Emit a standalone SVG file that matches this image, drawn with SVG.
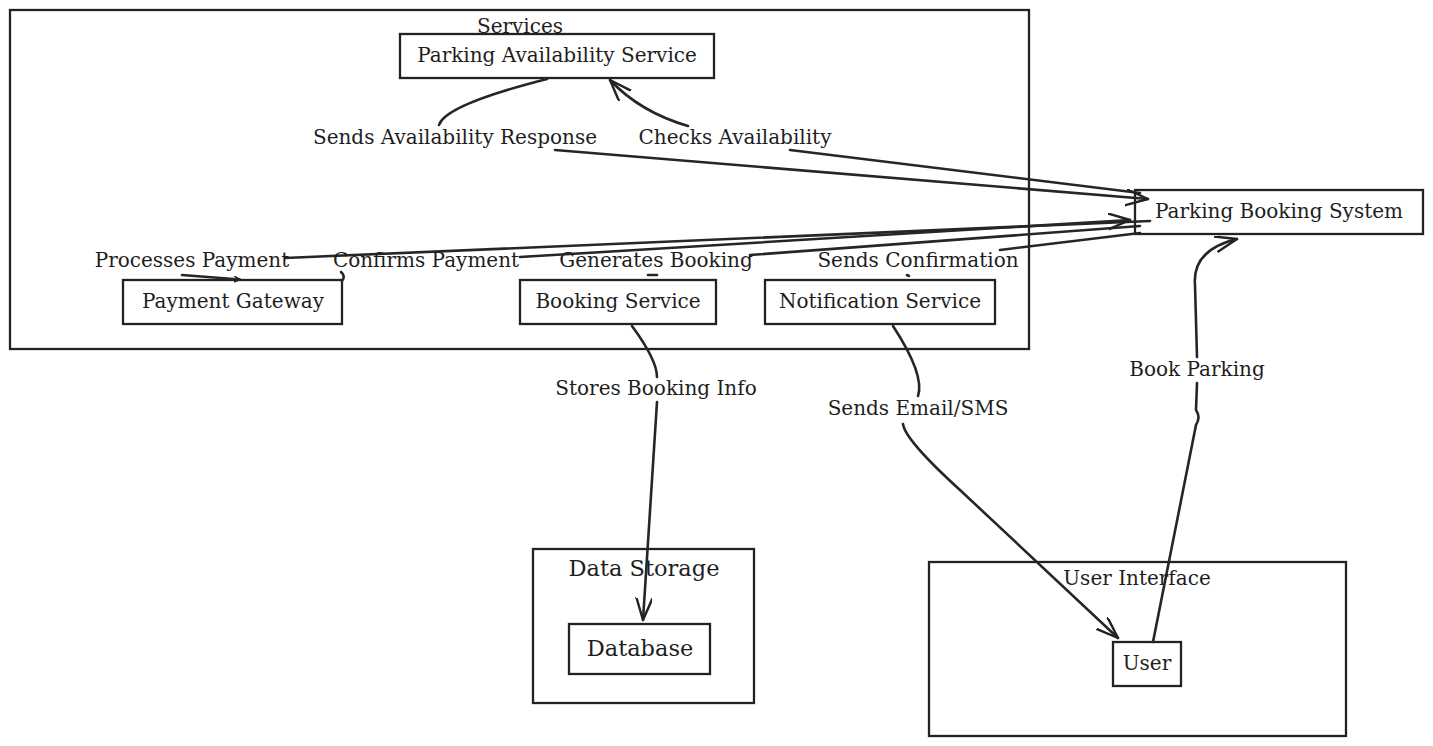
<svg xmlns="http://www.w3.org/2000/svg" width="1433" height="746" viewBox="0 0 1433 746">
<defs>
<marker id="arr" markerUnits="userSpaceOnUse" markerWidth="26" markerHeight="20" refX="22" refY="8" orient="auto">
<path d="M0,0 L22,8 L0,16" fill="none" stroke="#222" stroke-width="2.4" stroke-linecap="round" stroke-linejoin="round"/>
</marker>
<marker id="tiny" markerUnits="userSpaceOnUse" markerWidth="10" markerHeight="8" refX="6" refY="3" orient="auto">
<path d="M0,0 L6,3 L0,6" fill="none" stroke="#222" stroke-width="1.5"/>
</marker>
</defs>
<style>
text{font-family:"DejaVu Serif",serif;font-size:20px;fill:#1e1e1e;text-anchor:middle;dominant-baseline:central}
.big{font-size:22.5px}
.box{fill:none;stroke:#222;stroke-width:2.3}
.grp{fill:none;stroke:#222;stroke-width:2.3}
.e{fill:none;stroke:#262626;stroke-width:2.6;stroke-linecap:round}
</style>
<rect width="1433" height="746" fill="#fff"/>
<g id="services">
<rect class="grp" x="10" y="10" width="1019" height="339"/>
<text x="520" y="26">Services</text>
</g>
<g id="data-storage">
<rect class="grp" x="533" y="549" width="221" height="154"/>
<text class="big" x="644" y="568">Data Storage</text>
</g>
<g id="user-interface">
<rect class="grp" x="929" y="562" width="417" height="174"/>
<text x="1137" y="578">User Interface</text>
</g>
<g id="n-pas">
<rect class="box" x="400" y="34" width="314" height="44"/>
<text x="557" y="55">Parking Availability Service</text>
</g>
<g id="n-pg">
<rect class="box" x="123" y="280" width="219" height="44"/>
<text x="233" y="301">Payment Gateway</text>
</g>
<g id="n-bs">
<rect class="box" x="520" y="280" width="196" height="44"/>
<text x="618" y="301">Booking Service</text>
</g>
<g id="n-ns">
<rect class="box" x="765" y="280" width="230" height="44"/>
<text x="880" y="301">Notification Service</text>
</g>
<g id="n-pbs">
<rect class="box" x="1135" y="190" width="288" height="44"/>
<text x="1279" y="211">Parking Booking System</text>
</g>
<g id="n-db">
<rect class="box" x="569" y="624" width="141" height="50"/>
<text class="big" x="640" y="648">Database</text>
</g>
<g id="n-user">
<rect class="box" x="1113" y="642" width="68" height="44"/>
<text x="1147" y="663">User</text>
</g>
<g id="connectors">
<g id="e-book">
<path class="e" d="M1153,642 L1196,425 Q1201,417 1196,410 L1197,383"/>
<path class="e" d="M1197,357 L1195,285 Q1192,250 1237,239" marker-end="url(#arr)"/>
</g>
<g id="e-checks">
<path class="e" d="M1140,193 L790,150"/>
<path class="e" d="M688,126 Q640,112 610,80" marker-end="url(#arr)"/>
</g>
<g id="e-response">
<path class="e" d="M547,79 Q445,105 439,125"/>
<path class="e" d="M555,150 L1148,199" marker-end="url(#arr)"/>
</g>
<g id="e-process">
<path class="e" d="M1150,221 L285,258"/>
<path class="e" d="M182,275 L240,279.5" marker-end="url(#tiny)"/>
</g>
<g id="e-confirm">
<path class="e" d="M342,281 Q346,276 341,272"/>
<path class="e" d="M520,257 L1130,220" marker-end="url(#arr)"/>
</g>
<g id="e-generate">
<path class="e" d="M1140,226 L750,255"/>
<path class="e" d="M648,275 L657,275"/>
</g>
<g id="e-confirmation">
<path class="e" d="M1140,233 L1000,250"/>
<path class="e" d="M907,275 L909,276"/>
</g>
<g id="e-store">
<path class="e" d="M632,326 Q657,360 657,377"/>
<path class="e" d="M657,402 L643,620" marker-end="url(#arr)"/>
</g>
<g id="e-email">
<path class="e" d="M893,326 Q925,375 918,396"/>
<path class="e" d="M903,424 Q905,440 960,490 L1118,638" marker-end="url(#arr)"/>
</g>
</g>
<g id="labels">
<text x="455" y="137">Sends Availability Response</text>
<text x="735" y="137">Checks Availability</text>
<text x="192" y="260">Processes Payment</text>
<text x="426" y="260">Confirms Payment</text>
<text x="656" y="260">Generates Booking</text>
<text x="918" y="260">Sends Confirmation</text>
<text x="656" y="388">Stores Booking Info</text>
<text x="918" y="408">Sends Email/SMS</text>
<text x="1197" y="369">Book Parking</text>
</g>
</svg>
